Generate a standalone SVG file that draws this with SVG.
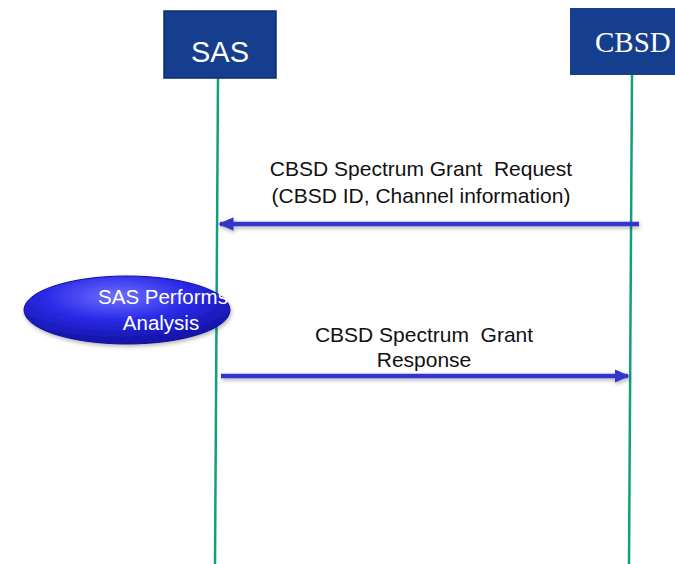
<svg xmlns="http://www.w3.org/2000/svg" width="675" height="564" viewBox="0 0 675 564">
<style>
.life{stroke:#12A07C;stroke-width:2.5;fill:none}
.msg{stroke:#3636CC;stroke-width:4.5;fill:none}
.lbl{font-family:"Liberation Sans",Arial,sans-serif;font-size:21px;fill:#111;text-anchor:middle;white-space:pre}
</style>
<defs>
<marker id="ah" markerWidth="3.4" markerHeight="3" refX="3" refY="1.5" orient="auto" markerUnits="strokeWidth">
<path d="M0,0 L3.4,1.5 L0,3 Z" fill="#3636CC"/>
</marker>
<radialGradient id="eg" cx="0.45" cy="0.3" r="0.7">
<stop offset="0" stop-color="#6F6FFF"/>
<stop offset="0.5" stop-color="#2A2AE8"/>
<stop offset="1" stop-color="#1212A0"/>
</radialGradient>
<filter id="sh" filterUnits="userSpaceOnUse" x="0" y="0" width="675" height="564">
<feDropShadow dx="1" dy="2" stdDeviation="2" flood-color="#000" flood-opacity="0.3"/>
</filter>
</defs>
<rect width="675" height="564" fill="#fff"/>
<g id="lifelines">
<line class="life" x1="218" y1="78" x2="215" y2="564"/>
<line class="life" x1="632" y1="75" x2="629" y2="564"/>
</g>
<g id="sas">
<rect x="164" y="11" width="112" height="67" fill="#163E8E" stroke="#0F2F6E" stroke-width="1.5"/>
<text x="220" y="62" font-family="'Liberation Sans',Arial,sans-serif" font-size="29" fill="#fff" text-anchor="middle">SAS</text>
</g>
<g id="cbsd">
<rect x="570" y="8" width="106" height="67" fill="#163E8E"/>
<text x="595" y="52" font-family="'Liberation Serif','Times New Roman',serif" font-size="29" fill="#fff">CBSD</text>
</g>
<g id="analysis">
<ellipse cx="127" cy="310" rx="103" ry="34" fill="url(#eg)" stroke="#1010A0" stroke-width="1" filter="url(#sh)"/>
<text x="163" y="304" font-family="'Liberation Sans',Arial,sans-serif" font-size="20.5" fill="#fff" text-anchor="middle">SAS Performs</text>
<text x="161" y="330" font-family="'Liberation Sans',Arial,sans-serif" font-size="20.5" fill="#fff" text-anchor="middle">Analysis</text>
</g>
<g id="connectors">
<line class="msg" x1="639" y1="224" x2="220" y2="224" marker-end="url(#ah)" filter="url(#sh)"/>
<line class="msg" x1="221" y1="376" x2="628" y2="376" marker-end="url(#ah)" filter="url(#sh)"/>
</g>
<g id="labels">
<text class="lbl" x="421" y="176" xml:space="preserve">CBSD Spectrum Grant  Request</text>
<text class="lbl" x="421" y="203">(CBSD ID, Channel information)</text>
<text class="lbl" x="424" y="342" xml:space="preserve">CBSD Spectrum  Grant</text>
<text class="lbl" x="424" y="367">Response</text>
</g>
</svg>
